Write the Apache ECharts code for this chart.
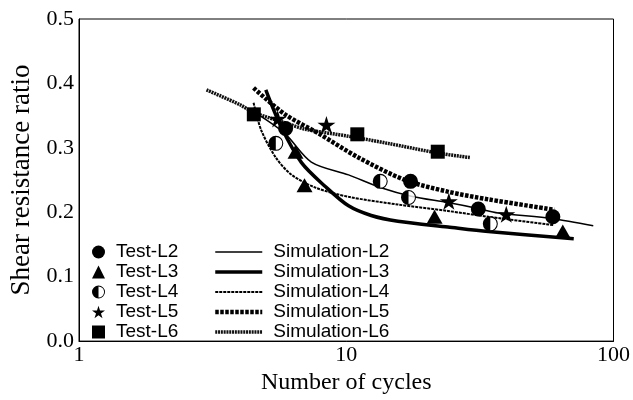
<!DOCTYPE html>
<html><head><meta charset="utf-8">
<script src="https://cdn.jsdelivr.net/npm/echarts@6/dist/echarts.min.js"></script>
<style>html,body{margin:0;padding:0;background:#fff}#c{width:633px;height:400px}</style>
</head><body><div id="c"></div>
<script>
// Test data (x = number of cycles, y = shear resistance ratio)
const testL2 = [[5.93,0.330],[17.4,0.248],[31.2,0.205],[59.3,0.193]];
const testL3 = [[6.46,0.294],[6.98,0.242],[21.4,0.193],[64.6,0.170]];
const testL4 = [[5.45,0.307],[13.4,0.248],[17.1,0.223],[34.6,0.182]];
const testL5 = [[5.54,0.345],[8.43,0.336],[24.2,0.217],[39.7,0.197]];
const testL6 = [[4.51,0.352],[11.0,0.321],[22.0,0.294]];
// Simulation curves
const simL2 = [[4.7,0.351],[5.9,0.322],[7.4,0.278],[10.2,0.258],[13.5,0.238],[17.5,0.225],[24,0.215],[31,0.206],[37,0.199],[59,0.190],[84,0.179]];
const simL3 = [[5.0,0.390],[5.7,0.333],[6.8,0.277],[8.35,0.240],[10.2,0.210],[12.4,0.195],[15.6,0.186],[24,0.177],[34,0.170],[71,0.159]];
const simL4 = [[4.5,0.370],[4.8,0.328],[5.45,0.285],[6.25,0.258],[7.7,0.238],[10.2,0.224],[15.6,0.212],[24,0.202],[34,0.193],[60,0.180]];
const simL5 = [[4.5,0.393],[5.9,0.352],[7.9,0.322],[11.1,0.285],[16.6,0.250],[24,0.232],[34,0.220],[60,0.204]];
const simL6 = [[3.0,0.390],[4.0,0.367],[4.5,0.355],[6.1,0.337],[7.0,0.329],[10.2,0.318],[14.3,0.307],[22,0.292],[29,0.285]];
const testNames = ['Test-L2','Test-L3','Test-L4','Test-L5','Test-L6'];
const simNames = ['Simulation-L2','Simulation-L3','Simulation-L4','Simulation-L5','Simulation-L6'];
const xAxisName = 'Number of cycles';
const yAxisName = 'Shear resistance ratio';

const halfCircle = 'path://M10,0A10,10,0,1,1,10,20A10,10,0,1,1,10,0ZM10,1.4A8.6,8.6,0,1,0,10,18.6A8.6,8.6,0,1,0,10,1.4ZM10,1.4A8.6,8.6,0,0,0,10,18.6Z';
const star = 'path://M50,0L61.17,34.63L97.55,34.55L68.07,55.87L79.39,90.45L50,69L20.61,90.45L31.93,55.87L2.45,34.55L38.83,34.63Z';

// line styles per simulation series (index matches simNames)
const simStyles = [
  {width:1.5, type:'solid', color:'#000'},
  {width:3.5, type:'solid', color:'#000'},
  {width:2, type:[3,1], color:'#000'},
  {width:4.5, type:[3.5,1.5], color:'#000'},
  {width:3.5, type:[2,0.8], color:'#111'}
];
const simData = [simL2, simL3, simL4, simL5, simL6];

const chart = echarts.init(document.getElementById('c'), null, {renderer:'canvas'});
function testPts(name, data, symbol, size, extra){
  return Object.assign({name, type:'scatter', data, symbol, symbolSize:size, z:4,
    itemStyle:{color:'#000', opacity:1}}, extra||{});
}
const serif = 'Liberation Serif';
const sans = 'Liberation Sans';
const simSeries = simNames.map((n,i)=>({name:n, type:'line', data:simData[i], symbol:'none', smooth:0.3, z:2,
  lineStyle:Object.assign({}, simStyles[i]), itemStyle:{color:simStyles[i].color}})).reverse();
chart.setOption({
  backgroundColor:'#fff',
  animation:false,
  grid:{left:79, right:16, top:19, bottom:49, show:true, borderColor:'#000', borderWidth:1, backgroundColor:'transparent'},
  xAxis:{type:'log', logBase:10, min:1, max:100,
    name:xAxisName, nameLocation:'middle', nameGap:27,
    nameTextStyle:{fontFamily:serif, fontSize:24, color:'#000'},
    axisLine:{show:true, lineStyle:{color:'#000', width:1}},
    axisTick:{show:false}, minorTick:{show:false}, splitLine:{show:false},
    axisLabel:{fontFamily:serif, fontSize:22, color:'#000', margin:3}},
  yAxis:{type:'value', min:0, max:0.5, interval:0.1,
    name:yAxisName, nameLocation:'middle', nameGap:41,
    nameTextStyle:{fontFamily:serif, fontSize:27, color:'#000'},
    axisLine:{show:true, lineStyle:{color:'#000', width:1}},
    axisTick:{show:false}, splitLine:{show:false},
    axisLabel:{fontFamily:serif, fontSize:22, color:'#000', margin:5, formatter:v=>v.toFixed(1)}},
  legend:[
    {data:testNames, orient:'vertical', left:92, top:242, padding:0, itemGap:0,
     itemWidth:13, itemHeight:13, selectedMode:false,
     textStyle:{fontFamily:sans, fontSize:19, color:'#000', lineHeight:20, padding:[0,0,0,6]}},
    {data:simNames.map((n,i)=>({name:n, lineStyle:{width:simStyles[i].width, type:simStyles[i].type, color:simStyles[i].color}})),
     orient:'vertical', left:213, top:242, padding:0, itemGap:0,
     itemWidth:47, itemHeight:13, selectedMode:false,
     itemStyle:{color:'rgba(0,0,0,0)', borderColor:'rgba(0,0,0,0)', borderWidth:0, opacity:0},
     textStyle:{fontFamily:sans, fontSize:19, color:'#000', lineHeight:20, padding:[0,0,0,6]}}
  ],
  series:simSeries.concat([
    testPts('Test-L6', testL6, 'rect', 14),
    testPts('Test-L5', testL5, star, 18, {symbolKeepAspect:true}),
    {name:'Test-L4-bg', type:'scatter', data:testL4, symbol:'circle', symbolSize:14, z:4, itemStyle:{color:'#fff'}, silent:true},
    testPts('Test-L4', testL4, halfCircle, 15),
    testPts('Test-L3', testL3, 'triangle', [16,14]),
    testPts('Test-L2', testL2, 'circle', 15)
  ])
});
</script></body></html>
